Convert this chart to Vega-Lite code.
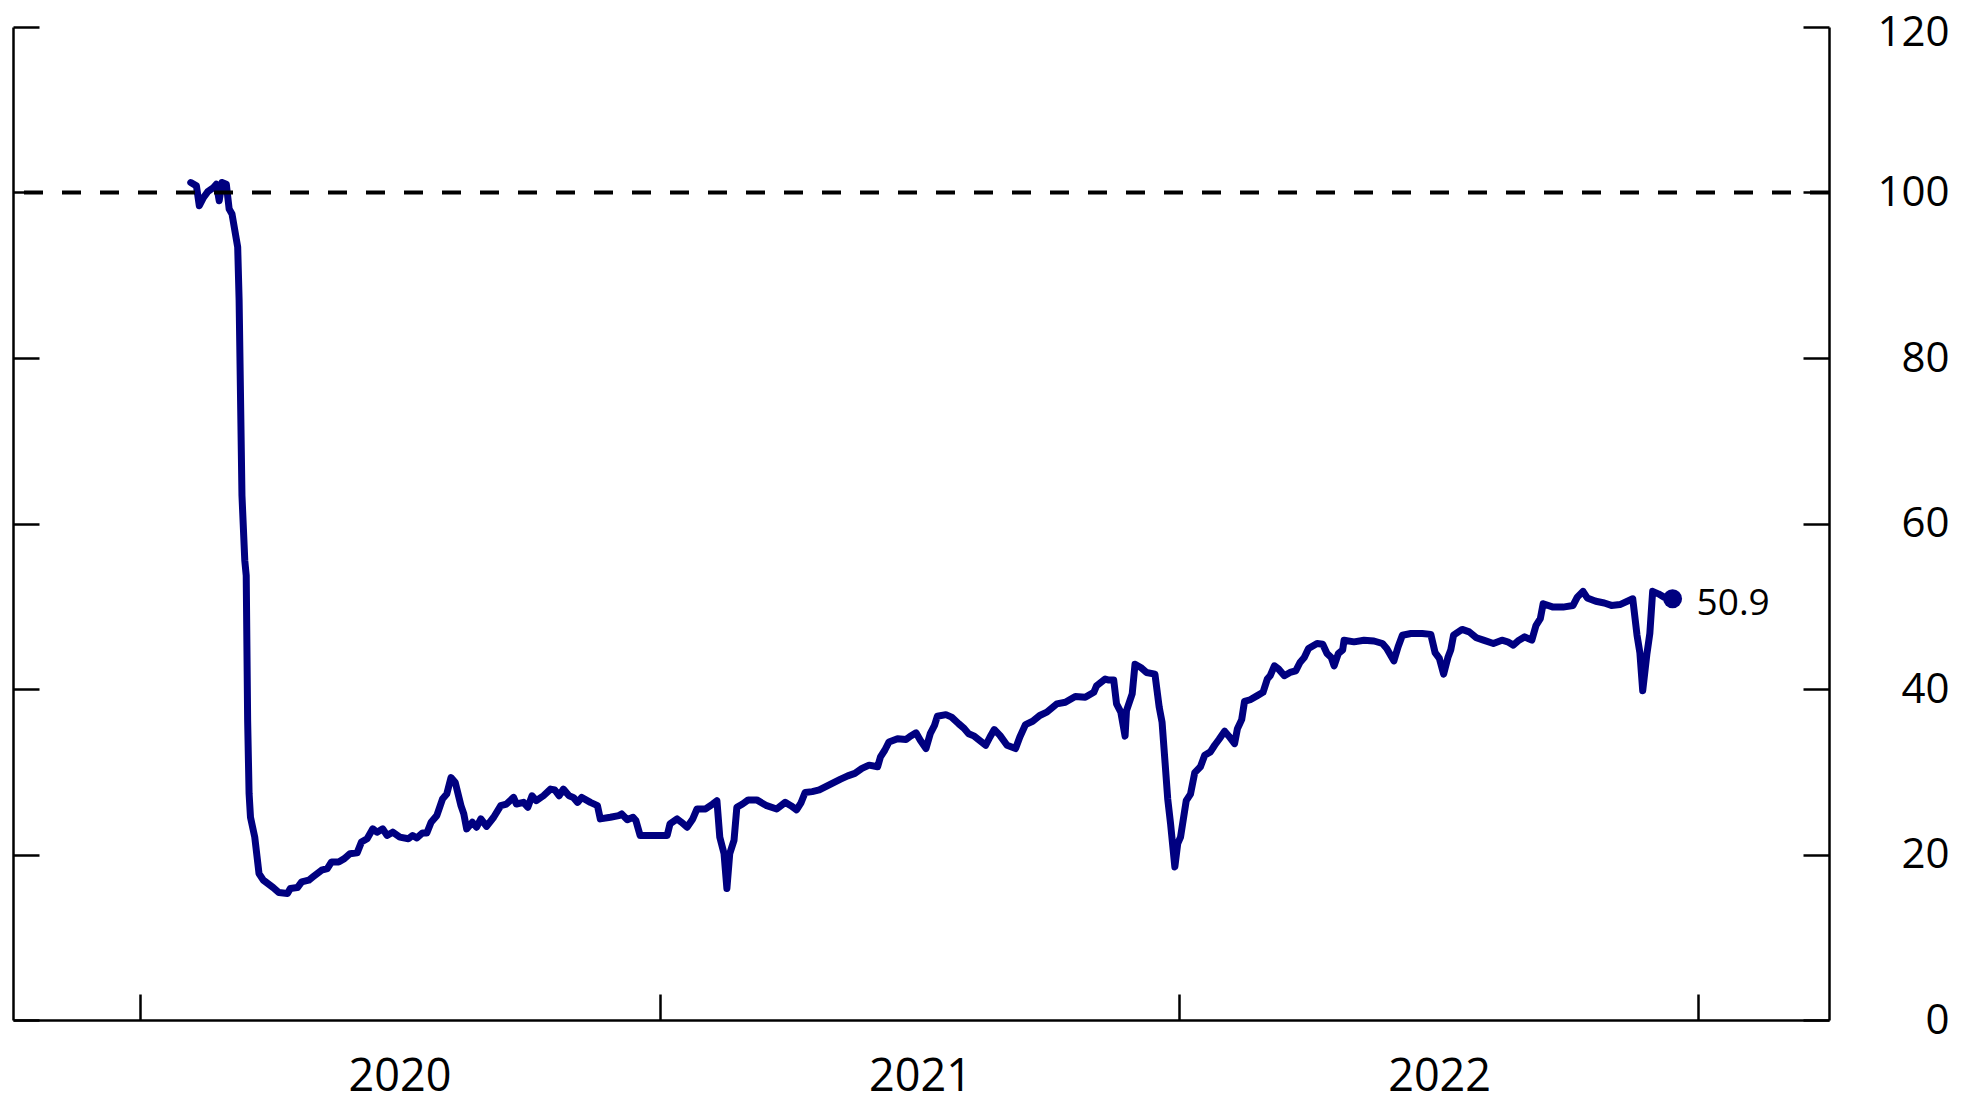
{
  "$schema": "https://vega.github.io/schema/vega-lite/v6.json",
  "width": 1816,
  "height": 993,
  "autosize": {"type": "none"},
  "padding": {"left": 13, "top": 27, "right": 138, "bottom": 83},
  "background": "white",
  "config": {
    "view": {"stroke": null},
    "axis": {
      "domainColor": "black", "domainWidth": 2.5, "tickColor": "black", "tickWidth": 2.5,
      "grid": false, "labelColor": "black", "labelFont": "Open Sans", "title": null
    }
  },
  "datasets": {
    "series": [
      {"date": "2020-02-06", "value": 101.2},
      {"date": "2020-02-10", "value": 100.8},
      {"date": "2020-02-12", "value": 98.4},
      {"date": "2020-02-15", "value": 99.4},
      {"date": "2020-02-18", "value": 100.1},
      {"date": "2020-02-22", "value": 100.6},
      {"date": "2020-02-24", "value": 101.0},
      {"date": "2020-02-26", "value": 99.0},
      {"date": "2020-02-28", "value": 101.2},
      {"date": "2020-03-02", "value": 101.0},
      {"date": "2020-03-04", "value": 98.0},
      {"date": "2020-03-06", "value": 97.4},
      {"date": "2020-03-10", "value": 93.4},
      {"date": "2020-03-11", "value": 87.0},
      {"date": "2020-03-13", "value": 63.4},
      {"date": "2020-03-15", "value": 55.5},
      {"date": "2020-03-16", "value": 53.7},
      {"date": "2020-03-17", "value": 36.2},
      {"date": "2020-03-18", "value": 27.4},
      {"date": "2020-03-19", "value": 24.5},
      {"date": "2020-03-22", "value": 22.1},
      {"date": "2020-03-25", "value": 17.7},
      {"date": "2020-03-28", "value": 16.9},
      {"date": "2020-04-04", "value": 16.0},
      {"date": "2020-04-08", "value": 15.4},
      {"date": "2020-04-14", "value": 15.3},
      {"date": "2020-04-16", "value": 15.9},
      {"date": "2020-04-21", "value": 16.0},
      {"date": "2020-04-24", "value": 16.7},
      {"date": "2020-04-29", "value": 16.9},
      {"date": "2020-05-02", "value": 17.3},
      {"date": "2020-05-08", "value": 18.1},
      {"date": "2020-05-12", "value": 18.3},
      {"date": "2020-05-15", "value": 19.1},
      {"date": "2020-05-20", "value": 19.1},
      {"date": "2020-05-24", "value": 19.5},
      {"date": "2020-05-28", "value": 20.1},
      {"date": "2020-06-02", "value": 20.2},
      {"date": "2020-06-05", "value": 21.5},
      {"date": "2020-06-09", "value": 21.9},
      {"date": "2020-06-13", "value": 23.1},
      {"date": "2020-06-16", "value": 22.7},
      {"date": "2020-06-20", "value": 23.1},
      {"date": "2020-06-23", "value": 22.3},
      {"date": "2020-06-27", "value": 22.7},
      {"date": "2020-07-02", "value": 22.1},
      {"date": "2020-07-08", "value": 21.9},
      {"date": "2020-07-11", "value": 22.3},
      {"date": "2020-07-14", "value": 22.0},
      {"date": "2020-07-18", "value": 22.6},
      {"date": "2020-07-21", "value": 22.6},
      {"date": "2020-07-24", "value": 23.9},
      {"date": "2020-07-28", "value": 24.7},
      {"date": "2020-08-01", "value": 26.7},
      {"date": "2020-08-04", "value": 27.3},
      {"date": "2020-08-07", "value": 29.3},
      {"date": "2020-08-10", "value": 28.7},
      {"date": "2020-08-14", "value": 25.9},
      {"date": "2020-08-16", "value": 24.9},
      {"date": "2020-08-18", "value": 23.1},
      {"date": "2020-08-22", "value": 23.9},
      {"date": "2020-08-25", "value": 23.3},
      {"date": "2020-08-28", "value": 24.3},
      {"date": "2020-09-01", "value": 23.4},
      {"date": "2020-09-06", "value": 24.5},
      {"date": "2020-09-11", "value": 25.9},
      {"date": "2020-09-15", "value": 26.1},
      {"date": "2020-09-20", "value": 26.9},
      {"date": "2020-09-22", "value": 26.1},
      {"date": "2020-09-27", "value": 26.3},
      {"date": "2020-09-30", "value": 25.7},
      {"date": "2020-10-03", "value": 27.1},
      {"date": "2020-10-06", "value": 26.5},
      {"date": "2020-10-11", "value": 27.1},
      {"date": "2020-10-16", "value": 27.9},
      {"date": "2020-10-19", "value": 27.8},
      {"date": "2020-10-22", "value": 27.1},
      {"date": "2020-10-25", "value": 27.9},
      {"date": "2020-10-29", "value": 27.1},
      {"date": "2020-11-01", "value": 26.9},
      {"date": "2020-11-04", "value": 26.3},
      {"date": "2020-11-07", "value": 26.9},
      {"date": "2020-11-13", "value": 26.3},
      {"date": "2020-11-18", "value": 25.9},
      {"date": "2020-11-20", "value": 24.3},
      {"date": "2020-11-27", "value": 24.5},
      {"date": "2020-12-03", "value": 24.7},
      {"date": "2020-12-05", "value": 24.9},
      {"date": "2020-12-09", "value": 24.2},
      {"date": "2020-12-13", "value": 24.5},
      {"date": "2020-12-15", "value": 24.1},
      {"date": "2020-12-18", "value": 22.3},
      {"date": "2020-12-28", "value": 22.3},
      {"date": "2021-01-06", "value": 22.3},
      {"date": "2021-01-08", "value": 23.7},
      {"date": "2021-01-13", "value": 24.3},
      {"date": "2021-01-16", "value": 23.9},
      {"date": "2021-01-20", "value": 23.3},
      {"date": "2021-01-24", "value": 24.3},
      {"date": "2021-01-27", "value": 25.5},
      {"date": "2021-02-02", "value": 25.5},
      {"date": "2021-02-07", "value": 26.1},
      {"date": "2021-02-10", "value": 26.5},
      {"date": "2021-02-12", "value": 22.1},
      {"date": "2021-02-15", "value": 20.1},
      {"date": "2021-02-17", "value": 15.9},
      {"date": "2021-02-19", "value": 20.1},
      {"date": "2021-02-22", "value": 21.7},
      {"date": "2021-02-24", "value": 25.7},
      {"date": "2021-02-28", "value": 26.1},
      {"date": "2021-03-04", "value": 26.6},
      {"date": "2021-03-10", "value": 26.6},
      {"date": "2021-03-17", "value": 25.9},
      {"date": "2021-03-24", "value": 25.5},
      {"date": "2021-03-30", "value": 26.3},
      {"date": "2021-04-03", "value": 25.9},
      {"date": "2021-04-07", "value": 25.4},
      {"date": "2021-04-10", "value": 26.2},
      {"date": "2021-04-13", "value": 27.5},
      {"date": "2021-04-18", "value": 27.6},
      {"date": "2021-04-23", "value": 27.8},
      {"date": "2021-05-01", "value": 28.5},
      {"date": "2021-05-08", "value": 29.1},
      {"date": "2021-05-13", "value": 29.5},
      {"date": "2021-05-18", "value": 29.8},
      {"date": "2021-05-23", "value": 30.4},
      {"date": "2021-05-28", "value": 30.8},
      {"date": "2021-06-03", "value": 30.6},
      {"date": "2021-06-05", "value": 31.8},
      {"date": "2021-06-08", "value": 32.6},
      {"date": "2021-06-11", "value": 33.6},
      {"date": "2021-06-17", "value": 34.0},
      {"date": "2021-06-23", "value": 33.9},
      {"date": "2021-06-26", "value": 34.3},
      {"date": "2021-06-30", "value": 34.7},
      {"date": "2021-07-03", "value": 33.8},
      {"date": "2021-07-07", "value": 32.8},
      {"date": "2021-07-10", "value": 34.6},
      {"date": "2021-07-13", "value": 35.6},
      {"date": "2021-07-15", "value": 36.7},
      {"date": "2021-07-21", "value": 36.9},
      {"date": "2021-07-25", "value": 36.6},
      {"date": "2021-07-30", "value": 35.8},
      {"date": "2021-08-03", "value": 35.2},
      {"date": "2021-08-06", "value": 34.6},
      {"date": "2021-08-10", "value": 34.3},
      {"date": "2021-08-18", "value": 33.2},
      {"date": "2021-08-21", "value": 34.2},
      {"date": "2021-08-24", "value": 35.1},
      {"date": "2021-08-28", "value": 34.4},
      {"date": "2021-09-02", "value": 33.2},
      {"date": "2021-09-08", "value": 32.8},
      {"date": "2021-09-11", "value": 34.2},
      {"date": "2021-09-15", "value": 35.7},
      {"date": "2021-09-20", "value": 36.1},
      {"date": "2021-09-25", "value": 36.8},
      {"date": "2021-09-30", "value": 37.2},
      {"date": "2021-10-07", "value": 38.2},
      {"date": "2021-10-13", "value": 38.4},
      {"date": "2021-10-20", "value": 39.1},
      {"date": "2021-10-27", "value": 39.0},
      {"date": "2021-11-02", "value": 39.6},
      {"date": "2021-11-04", "value": 40.4},
      {"date": "2021-11-10", "value": 41.2},
      {"date": "2021-11-12", "value": 41.1},
      {"date": "2021-11-16", "value": 41.1},
      {"date": "2021-11-18", "value": 38.2},
      {"date": "2021-11-21", "value": 37.2},
      {"date": "2021-11-24", "value": 34.3},
      {"date": "2021-11-25", "value": 37.4},
      {"date": "2021-11-29", "value": 39.4},
      {"date": "2021-12-01", "value": 43.0},
      {"date": "2021-12-05", "value": 42.6},
      {"date": "2021-12-09", "value": 42.0},
      {"date": "2021-12-15", "value": 41.8},
      {"date": "2021-12-18", "value": 37.8},
      {"date": "2021-12-20", "value": 36.0},
      {"date": "2021-12-22", "value": 31.4},
      {"date": "2021-12-24", "value": 26.7},
      {"date": "2021-12-26", "value": 23.7},
      {"date": "2021-12-29", "value": 18.5},
      {"date": "2021-12-31", "value": 21.3},
      {"date": "2022-01-02", "value": 22.1},
      {"date": "2022-01-06", "value": 26.5},
      {"date": "2022-01-09", "value": 27.3},
      {"date": "2022-01-12", "value": 29.9},
      {"date": "2022-01-16", "value": 30.6},
      {"date": "2022-01-19", "value": 32.0},
      {"date": "2022-01-23", "value": 32.4},
      {"date": "2022-01-26", "value": 33.2},
      {"date": "2022-01-29", "value": 33.9},
      {"date": "2022-02-02", "value": 34.9},
      {"date": "2022-02-05", "value": 34.3},
      {"date": "2022-02-09", "value": 33.4},
      {"date": "2022-02-11", "value": 35.2},
      {"date": "2022-02-14", "value": 36.3},
      {"date": "2022-02-16", "value": 38.5},
      {"date": "2022-02-20", "value": 38.7},
      {"date": "2022-02-25", "value": 39.2},
      {"date": "2022-03-01", "value": 39.6},
      {"date": "2022-03-04", "value": 41.2},
      {"date": "2022-03-06", "value": 41.6},
      {"date": "2022-03-09", "value": 42.8},
      {"date": "2022-03-12", "value": 42.4},
      {"date": "2022-03-16", "value": 41.6},
      {"date": "2022-03-20", "value": 42.0},
      {"date": "2022-03-24", "value": 42.2},
      {"date": "2022-03-27", "value": 43.2},
      {"date": "2022-03-30", "value": 43.8},
      {"date": "2022-04-02", "value": 44.9},
      {"date": "2022-04-08", "value": 45.5},
      {"date": "2022-04-12", "value": 45.4},
      {"date": "2022-04-15", "value": 44.3},
      {"date": "2022-04-18", "value": 43.8},
      {"date": "2022-04-20", "value": 42.8},
      {"date": "2022-04-23", "value": 44.3},
      {"date": "2022-04-26", "value": 44.7},
      {"date": "2022-04-27", "value": 45.9},
      {"date": "2022-05-04", "value": 45.7},
      {"date": "2022-05-11", "value": 45.9},
      {"date": "2022-05-18", "value": 45.8},
      {"date": "2022-05-24", "value": 45.5},
      {"date": "2022-05-27", "value": 44.9},
      {"date": "2022-06-01", "value": 43.4},
      {"date": "2022-06-04", "value": 45.1},
      {"date": "2022-06-07", "value": 46.5},
      {"date": "2022-06-13", "value": 46.7},
      {"date": "2022-06-21", "value": 46.7},
      {"date": "2022-06-27", "value": 46.6},
      {"date": "2022-06-30", "value": 44.4},
      {"date": "2022-07-03", "value": 43.7},
      {"date": "2022-07-06", "value": 41.8},
      {"date": "2022-07-09", "value": 43.8},
      {"date": "2022-07-11", "value": 44.7},
      {"date": "2022-07-13", "value": 46.5},
      {"date": "2022-07-19", "value": 47.2},
      {"date": "2022-07-24", "value": 46.9},
      {"date": "2022-07-29", "value": 46.2},
      {"date": "2022-08-03", "value": 45.9},
      {"date": "2022-08-10", "value": 45.5},
      {"date": "2022-08-16", "value": 45.9},
      {"date": "2022-08-20", "value": 45.7},
      {"date": "2022-08-24", "value": 45.3},
      {"date": "2022-08-28", "value": 45.9},
      {"date": "2022-09-01", "value": 46.3},
      {"date": "2022-09-06", "value": 45.9},
      {"date": "2022-09-09", "value": 47.7},
      {"date": "2022-09-12", "value": 48.5},
      {"date": "2022-09-14", "value": 50.3},
      {"date": "2022-09-21", "value": 49.9},
      {"date": "2022-09-28", "value": 49.9},
      {"date": "2022-10-05", "value": 50.1},
      {"date": "2022-10-08", "value": 51.1},
      {"date": "2022-10-12", "value": 51.8},
      {"date": "2022-10-15", "value": 51.0},
      {"date": "2022-10-21", "value": 50.6},
      {"date": "2022-10-27", "value": 50.4},
      {"date": "2022-11-01", "value": 50.1},
      {"date": "2022-11-07", "value": 50.2},
      {"date": "2022-11-16", "value": 50.9},
      {"date": "2022-11-19", "value": 46.5},
      {"date": "2022-11-21", "value": 44.4},
      {"date": "2022-11-23", "value": 39.8},
      {"date": "2022-11-26", "value": 44.3},
      {"date": "2022-11-28", "value": 46.7},
      {"date": "2022-11-30", "value": 51.8},
      {"date": "2022-12-04", "value": 51.5},
      {"date": "2022-12-08", "value": 51.1},
      {"date": "2022-12-14", "value": 50.9}
    ],
    "last": [
      {"date": "2022-12-14", "value": 50.9, "label": "50.9"}
    ],
    "reference": [
      {"level": 100}
    ]
  },
  "encoding": {
    "x": {
      "field": "date", "type": "temporal",
      "scale": {"type": "utc", "domain": ["2019-10-04", "2023-04-03"]},
      "axis": {
        "orient": "bottom",
        "values": [
          {"year": 2020, "month": 1, "date": 1, "utc": true},
          {"year": 2021, "month": 1, "date": 1, "utc": true},
          {"year": 2022, "month": 1, "date": 1, "utc": true},
          {"year": 2023, "month": 1, "date": 1, "utc": true}
        ],
        "tickSize": -26,
        "labelOffset": 260,
        "labelFlush": false,
        "labelOverlap": false,
        "labelFontSize": 45,
        "labelBaseline": "alphabetic",
        "labelPadding": 96,
        "labelExpr": "utcyear(datum.value) < 2023 ? utcFormat(datum.value, '%Y') : ''"
      }
    }
  },
  "layer": [
    {
      "data": {"name": "series"},
      "mark": {"type": "line", "color": "#000080", "strokeWidth": 7, "strokeJoin": "round", "strokeCap": "round"},
      "encoding": {
        "y": {
          "field": "value", "type": "quantitative",
          "scale": {"domain": [0, 120], "nice": false, "zero": true},
          "axis": {
            "orient": "left", "labels": false, "tickSize": -26,
            "values": [0, 20, 40, 60, 80, 100, 120]
          }
        }
      }
    },
    {
      "data": {"name": "reference"},
      "mark": {"type": "rule", "color": "black", "strokeWidth": 4, "strokeDash": [19, 19]},
      "encoding": {
        "x": null,
        "y": {"field": "level", "type": "quantitative", "axis": null}
      }
    },
    {
      "data": {"name": "last"},
      "mark": {"type": "point", "filled": true, "opacity": 1, "color": "#000080", "size": 360},
      "encoding": {
        "y": {
          "field": "value", "type": "quantitative",
          "axis": {
            "orient": "right", "tickSize": -26, "labelFontSize": 42,
            "labelAlign": "right", "labelPadding": 146,
            "labelOffset": {"condition": {"test": "datum.value >= 120", "value": 5}, "value": 0},
            "values": [0, 20, 40, 60, 80, 100, 120]
          }
        }
      }
    },
    {
      "data": {"name": "last"},
      "mark": {"type": "text", "align": "left", "baseline": "middle", "dx": 24, "dy": 5, "fontSize": 37, "font": "Open Sans", "color": "black"},
      "encoding": {
        "y": {"field": "value", "type": "quantitative", "axis": null},
        "text": {"field": "label"}
      }
    }
  ],
  "resolve": {"axis": {"y": "independent"}}
}
